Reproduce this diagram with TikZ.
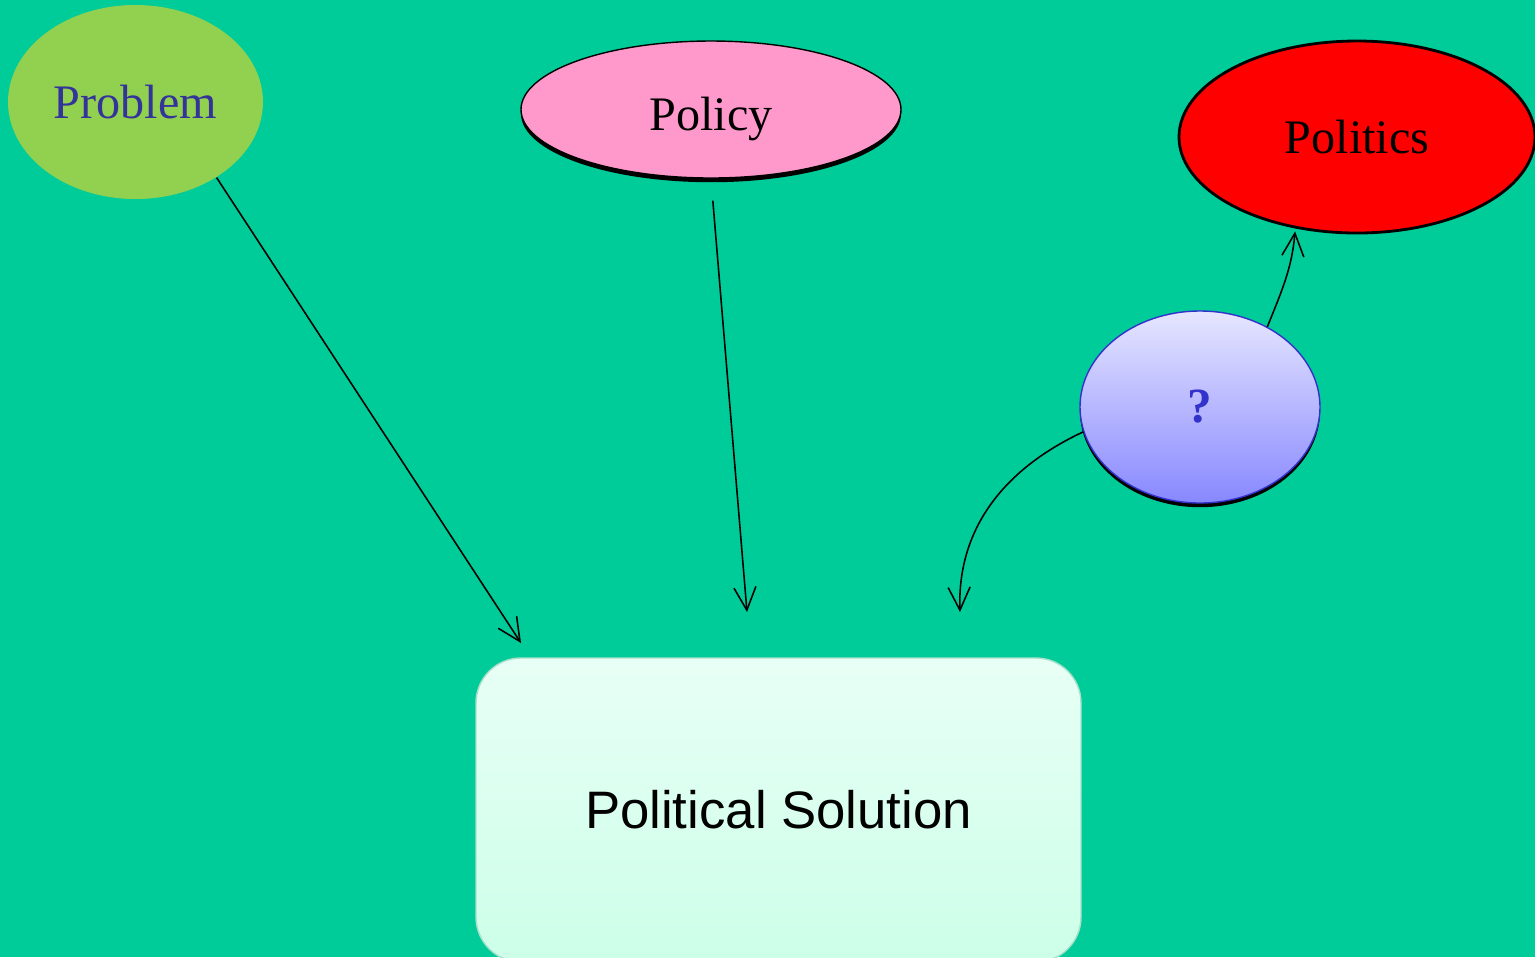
\documentclass[tikz,border=0pt]{standalone}
\usepackage{fontspec}
\setmainfont{Liberation Serif}
\newfontfamily\solfont{Liberation Sans}
\usetikzlibrary{shapes.geometric,arrows.meta,shadows}
\definecolor{bgteal}{HTML}{00CC99}
\definecolor{probgreen}{HTML}{92D050}
\definecolor{probtext}{HTML}{333399}
\definecolor{policypink}{HTML}{FF99CC}
\definecolor{qtop}{HTML}{E6E6FF}
\definecolor{qbottom}{HTML}{8888FF}
\definecolor{qborder}{HTML}{3333CC}
\definecolor{soltop}{HTML}{E8FFF6}
\definecolor{solbottom}{HTML}{CCFFE8}
\definecolor{solborder}{HTML}{A8E0CC}
\begin{document}
\begin{tikzpicture}
    \tikzset{bubble/.style={ellipse, inner sep=0pt, font=\fontsize{13.7}{16}\selectfont},
             shade/.style={drop shadow={shadow xshift=0pt, shadow yshift=-1.2pt, fill=black, opacity=1}},
             arr/.style={-{Straight Barb[length=2.3mm,width=2.2mm]}, line width=0.45pt}}
    
    % ---- background ----
    \fill[bgteal] (0,0) rectangle (15.35,-9.57);
    \useasboundingbox (0,0) rectangle (15.35,-9.57);
    
    % ---- the three streams ----
    \node[bubble, fill=probgreen, text=probtext, minimum width=2.55cm, minimum height=1.94cm] (problem) at (1.355,-1.02) {Problem};
    \node[bubble, draw, shade, fill=policypink, text height=15pt, minimum width=3.8cm, minimum height=1.37cm] (policy) at (7.11,-1.095) {Policy};
    \node[bubble, draw, line width=0.8pt, fill=red, minimum width=3.56cm, minimum height=1.92cm] (politics) at (13.57,-1.37) {Politics};
    \node[bubble, draw=qborder, shade, top color=qtop, bottom color=qbottom, text=qborder,
          minimum width=2.4cm, minimum height=1.92cm, font=\fontsize{14}{16}\selectfont\bfseries] (question) at (12.0,-4.07) {?};
    
    % ---- outcome ----
    \node[draw=solborder, rounded corners=0.45cm, top color=soltop, bottom color=solbottom,
          minimum width=6.05cm, minimum height=3.04cm, font=\solfont\fontsize{15}{18}\selectfont] (solution) at (7.785,-8.10) {Political Solution};
    
    % ---- arrows ----
    \coordinate (tipA) at (5.21,-6.43);
    \coordinate (tipB) at (7.47,-6.12);
    \coordinate (tipC) at (9.60,-6.12);
    \draw[arr] (problem.-43) -- (tipA);
    \draw[arr, shorten <=2.2mm] (policy.south) -- (tipB);
    \draw[arr] (question.192) to[out=205, in=92] (tipC);
    \draw[arr, shorten >=0.3mm] (question.50) to[out=68, in=-95] (politics.236);
\end{tikzpicture}
\end{document}
